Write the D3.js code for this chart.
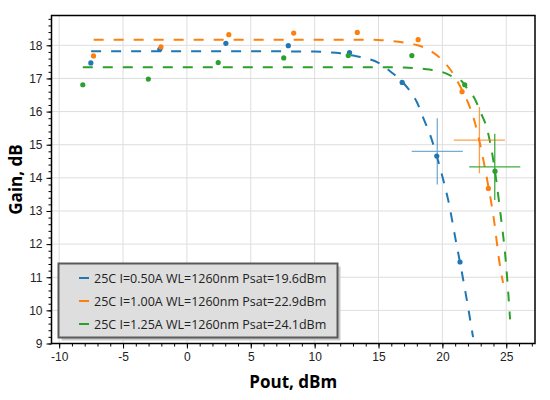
<!DOCTYPE html>
<html>
<head>
<meta charset="utf-8">
<script src="https://cdn.jsdelivr.net/npm/d3@7"></script>
<style>
  body { margin: 0; background: #fff; }
  svg { font-family: "Open Sans", "Noto Sans", sans-serif; }
</style>
</head>
<body>
<svg id="chart" width="550" height="400"></svg>
<script>
// legend labels and colours
const labels = [
    "25C I=0.50A WL=1260nm Psat=19.6dBm",
    "25C I=1.00A WL=1260nm Psat=22.9dBm",
    "25C I=1.25A WL=1260nm Psat=24.1dBm"
];
const colors = ["#1f77b4", "#ff7f0e", "#2ca02c"];

// measured points
const pout050 = [-7.52, -2.12, 3.05, 7.94, 12.73, 16.85, 19.56, 21.38];
const gain050 = [17.47, 17.88, 18.06, 17.99, 17.78, 16.88, 14.66, 11.46];
const pout100 = [-7.31, -2.03, 3.28, 8.36, 13.34, 18.1, 21.54, 23.6];
const gain100 = [17.68, 17.95, 18.32, 18.37, 18.39, 18.17, 16.6, 13.68];
const pout125 = [-8.15, -3.02, 2.45, 7.58, 12.63, 17.61, 21.75, 24.12];
const gain125 = [16.81, 16.98, 17.48, 17.62, 17.69, 17.69, 16.81, 14.2];

// fitted curves
const fitX050 = [-7.5, 0, 5, 10, 11, 12, 13, 14, 15, 16, 17, 17.5, 18, 18.5, 19, 19.5, 20, 20.5, 21, 21.5, 22, 22.4];
const fitY050 = [17.82, 17.82, 17.82, 17.81, 17.79, 17.76, 17.69, 17.61, 17.47, 17.19, 16.84, 16.6, 16.29, 15.81, 15.34, 14.74, 14.04, 13.25, 12.21, 11.2, 10.12, 9.19];
const fitX100 = [-7.3, 0, 10, 14, 15, 16, 17, 18, 19, 20, 20.5, 21, 21.5, 22, 22.5, 23, 23.5, 24, 24.5, 24.75];
const fitY100 = [18.17, 18.17, 18.17, 18.17, 18.16, 18.13, 18.08, 18.01, 17.85, 17.55, 17.33, 17.04, 16.68, 16.28, 15.73, 14.93, 13.95, 12.83, 11.37, 10.83];
const fitX125 = [-8.15, 0, 10, 15, 17, 18, 19, 20, 21, 21.5, 22, 22.5, 23, 23.5, 24, 24.5, 25, 25.3];
const fitY125 = [17.34, 17.34, 17.34, 17.34, 17.33, 17.31, 17.27, 17.19, 17.02, 16.92, 16.66, 16.41, 15.97, 15.47, 14.5, 13.07, 11.32, 9.73];

// Psat markers: (Psat, G0-3dB) with error bars
const psat = [19.6, 22.9, 24.1];
const psatGain = [14.8, 15.14, 14.33];
const psatXerr = [2, 2, 2];
const psatYerr = [1, 1, 1];

const xTicks = [-10, -5, 0, 5, 10, 15, 20, 25];
const yTicks = [9, 10, 11, 12, 13, 14, 15, 16, 17, 18];

const svg = d3.select("#chart");
const pLeft = 51.5, pRight = 535, pTop = 15.5, pBottom = 343.5;

const x = d3.scaleLinear().domain([-10.6, 27.25]).range([pLeft, pRight]);
const y = d3.scaleLinear().domain([9, 18.9]).range([pBottom, pTop]);

// grid
svg.append("g").selectAll("line").data(xTicks).join("line")
    .attr("x1", d => x(d)).attr("x2", d => x(d))
    .attr("y1", pTop).attr("y2", pBottom)
    .style("stroke", "#dedede").style("stroke-width", 1);
svg.append("g").selectAll("line").data(yTicks).join("line")
    .attr("x1", pLeft).attr("x2", pRight)
    .attr("y1", d => y(d)).attr("y2", d => y(d))
    .style("stroke", "#dedede").style("stroke-width", 1);

// axes (plain hyphen for negatives, like the original)
const plain = d => String(d);
svg.append("g").attr("transform", `translate(0,${pBottom})`)
    .call(d3.axisBottom(x).tickValues(xTicks).tickSize(5).tickPadding(4).tickFormat(plain));
svg.append("g").attr("transform", `translate(0,${pBottom})`)
    .call(d3.axisBottom(x).tickValues(d3.range(-10, 28, 1)).tickSize(3).tickFormat(""));
svg.append("g").attr("transform", `translate(${pLeft},0)`)
    .call(d3.axisLeft(y).tickValues(yTicks).tickSize(5).tickPadding(4).tickFormat(plain));
svg.append("g").attr("transform", `translate(${pLeft},0)`)
    .call(d3.axisLeft(y).tickValues(d3.range(9, 18.9, 0.2)).tickSize(3).tickFormat(""));

svg.selectAll(".tick text").style("font-size", "12px").style("fill", "#222");
svg.selectAll(".tick line").style("stroke", "#000");
svg.selectAll(".domain").remove();

// frame
svg.append("rect")
    .attr("x", pLeft).attr("y", pTop)
    .attr("width", pRight - pLeft).attr("height", pBottom - pTop)
    .style("fill", "none").style("stroke", "#000").style("stroke-width", 1.5);

svg.append("clipPath").attr("id", "plotclip")
    .append("rect").attr("x", pLeft).attr("y", pTop)
    .attr("width", pRight - pLeft).attr("height", pBottom - pTop);
const plot = svg.append("g").attr("clip-path", "url(#plotclip)");

// fitted dashed lines
const fits = [[fitX050, fitY050], [fitX100, fitY100], [fitX125, fitY125]];
const line = d3.line().x(d => x(d[0])).y(d => y(d[1])).curve(d3.curveMonotoneX);
fits.forEach((f, i) => {
    plot.append("path")
        .datum(d3.zip(f[0], f[1]))
        .attr("d", line)
        .style("fill", "none")
        .style("stroke", colors[i])
        .style("stroke-width", 2)
        .style("stroke-dasharray", "10,10");
});

// points
const pts = [[pout050, gain050], [pout100, gain100], [pout125, gain125]];
pts.forEach((p, i) => {
    plot.append("g").selectAll("circle").data(d3.zip(p[0], p[1])).join("circle")
        .attr("cx", d => x(d[0]))
        .attr("cy", d => y(d[1]))
        .attr("r", 2.6)
        .style("fill", colors[i]);
});

// Psat crosses
const crossOpacity = [0.6, 0.75, 0.9];
psat.forEach((p, i) => {
    const g = plot.append("g").style("stroke", colors[i]).style("stroke-width", 1.3).style("opacity", crossOpacity[i]);
    g.append("line")
        .attr("x1", x(p - psatXerr[i])).attr("x2", x(p + psatXerr[i]))
        .attr("y1", y(psatGain[i])).attr("y2", y(psatGain[i]));
    g.append("line")
        .attr("x1", x(p)).attr("x2", x(p))
        .attr("y1", y(psatGain[i] - psatYerr[i])).attr("y2", y(psatGain[i] + psatYerr[i]));
});

// legend
const lg = svg.append("g").attr("transform", "translate(58.5,263.5)");
lg.append("rect").attr("x", 3).attr("y", 3).attr("width", 279).attr("height", 74)
    .style("fill", "#c9c9c9");
lg.append("rect").attr("width", 279).attr("height", 74)
    .style("fill", "#dedede").style("stroke", "#5a5a5a").style("stroke-width", 2);
labels.forEach((t, i) => {
    const yy = 14.5 + i * 23;
    lg.append("line")
        .attr("x1", 20.5).attr("x2", 30.5).attr("y1", yy).attr("y2", yy)
        .style("stroke", colors[i]).style("stroke-width", 2);
    lg.append("text")
        .attr("x", 35.5).attr("y", yy + 4.5)
        .style("font-size", "12.5px").style("fill", "#222")
        .text(t);
});

// axis titles
svg.append("text")
    .attr("x", (pLeft + pRight) / 2).attr("y", 388)
    .attr("text-anchor", "middle")
    .style("font-size", "17px").style("font-weight", "bold")
    .text("Pout, dBm");
svg.append("text")
    .attr("transform", `translate(22,${(pTop + pBottom) / 2}) rotate(-90)`)
    .attr("text-anchor", "middle")
    .style("font-size", "17px").style("font-weight", "bold")
    .text("Gain, dB");
</script>
</body>
</html>
